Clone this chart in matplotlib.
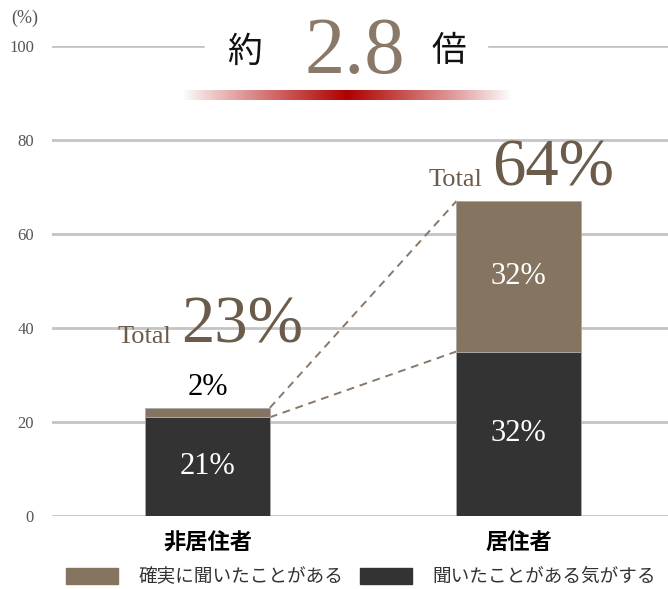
import numpy as np
import matplotlib.pyplot as plt
from matplotlib.patches import Rectangle, Patch

plt.rcParams['font.family'] = ['Liberation Serif', 'Noto Sans CJK JP', 'DejaVu Sans']

# data
categories = ['非居住者', '居住者']
heard_vaguely = [21, 35]      # 聞いたことがある気がする (dark, bottom)
heard_surely = [2, 32]        # 確実に聞いたことがある (brown, top)
vague_labels = ['21%', '32%']
sure_labels = ['2%', '32%']
total_labels = ['23%', '64%']
series_names = ['確実に聞いたことがある', '聞いたことがある気がする']
yticks = [0, 20, 40, 60, 80, 100]

c_dark = '#333333'
c_brown = '#857560'
c_text = '#6b5b4b'
cjk = ['Noto Sans CJK JP', 'DejaVu Sans']

fig = plt.figure(figsize=(6.68, 5.89), dpi=100)
W, H = 668, 589
ax = fig.add_axes([52 / W, 73 / H, 616 / W, 470 / H])

x = np.arange(len(categories))
bw = 0.4
totals = [a + b for a, b in zip(heard_vaguely, heard_surely)]

ax.bar(x, heard_vaguely, bw, color=c_dark, edgecolor='#aaaaaa', linewidth=0.6, zorder=3)
ax.bar(x, heard_surely, bw, bottom=heard_vaguely, color=c_brown,
       edgecolor='#aaaaaa', linewidth=0.6, zorder=3)

# dashed connector lines between the two bars
ax.plot([x[0] + bw / 2, x[1] - bw / 2], [totals[0], totals[1]],
        ls=(0, (4, 3)), color='#8a7868', lw=1.4, zorder=2)
ax.plot([x[0] + bw / 2, x[1] - bw / 2], [heard_vaguely[0], heard_vaguely[1]],
        ls=(0, (4, 3)), color='#8a7868', lw=1.4, zorder=2)

# segment labels
for i in x:
    ax.text(i, heard_vaguely[i] / 2, vague_labels[i], ha='center', va='center',
            color='white', fontsize=22, zorder=4)
ax.text(x[1], heard_vaguely[1] + heard_surely[1] / 2, sure_labels[1], ha='center',
        va='center', color='white', fontsize=22, zorder=4)
ax.annotate(sure_labels[0], (x[0], totals[0]), xytext=(0, 9), textcoords='offset points',
            ha='center', va='baseline', fontsize=22, color='black')

# Total labels above the bars
total_offsets = [47, 11]  # points above bar top
for i in x:
    ax.annotate('Total', (x[i], totals[i]), xytext=(-26, total_offsets[i]),
                textcoords='offset points', ha='right', va='baseline',
                fontsize=19, color=c_text)
    ax.annotate(total_labels[i], (x[i], totals[i]), xytext=(-19, total_offsets[i]),
                textcoords='offset points', ha='left', va='baseline',
                fontsize=48, color=c_text)

ax.set_xlim(-0.5, 1.48)
ax.set_ylim(0, 100)
ax.set_yticks(yticks)
ax.yaxis.grid(True, color='#c4c4c4', lw=2)
ax.set_axisbelow(True)
for s in ax.spines.values():
    s.set_visible(False)
ax.tick_params(axis='y', length=0, pad=13, labelsize=12, labelcolor='#555555')
ax.set_xticks(x)
ax.set_xticklabels(categories, family=cjk, fontweight='bold', fontsize=16)
ax.tick_params(axis='x', length=0, pad=11)

# legend
handles = [Patch(color=c_brown), Patch(color=c_dark)]
leg = fig.legend(handles, series_names, loc='center', bbox_to_anchor=(361 / W, 1 - 577 / H),
                 ncol=2, frameon=False, handlelength=2.8, handleheight=1.0,
                 handletextpad=1.1, columnspacing=0.9, prop={'family': cjk, 'size': 13.4})
for t in leg.get_texts():
    t.set_color('#333333')

# overlay for title decoration (pixel coordinates)
ov = fig.add_axes([0, 0, 1, 1], zorder=5)
ov.set_xlim(0, W)
ov.set_ylim(H, 0)
ov.axis('off')
ov.patch.set_alpha(0)
ov.add_patch(Rectangle((205, 36), 282, 20, color='white', zorder=1))

t = np.linspace(-1, 1, 400)
w = (1 - np.abs(t)) ** 0.9
red = np.array([0.69, 0.0, 0.0])
grad = np.ones((1, len(t), 3)) * (1 - w)[None, :, None] + red[None, None, :] * w[None, :, None]
ov.imshow(grad, extent=[183, 511, 100, 90], aspect='auto', zorder=2)
ov.set_xlim(0, W)
ov.set_ylim(H, 0)

ov.text(245, 52, '約', ha='center', va='center', fontsize=25, family=cjk, color='#111111', zorder=3)
ov.text(355, 53, '2.8', ha='center', va='center', fontsize=58, color='#8a7868', zorder=3)
ov.text(449, 52, '倍', ha='center', va='center', fontsize=25, family=cjk, color='#111111', zorder=3)
ov.text(25, 18, '(%)', ha='center', va='center', fontsize=13, color='#555555')

fig.savefig('out.png', dpi=100)
